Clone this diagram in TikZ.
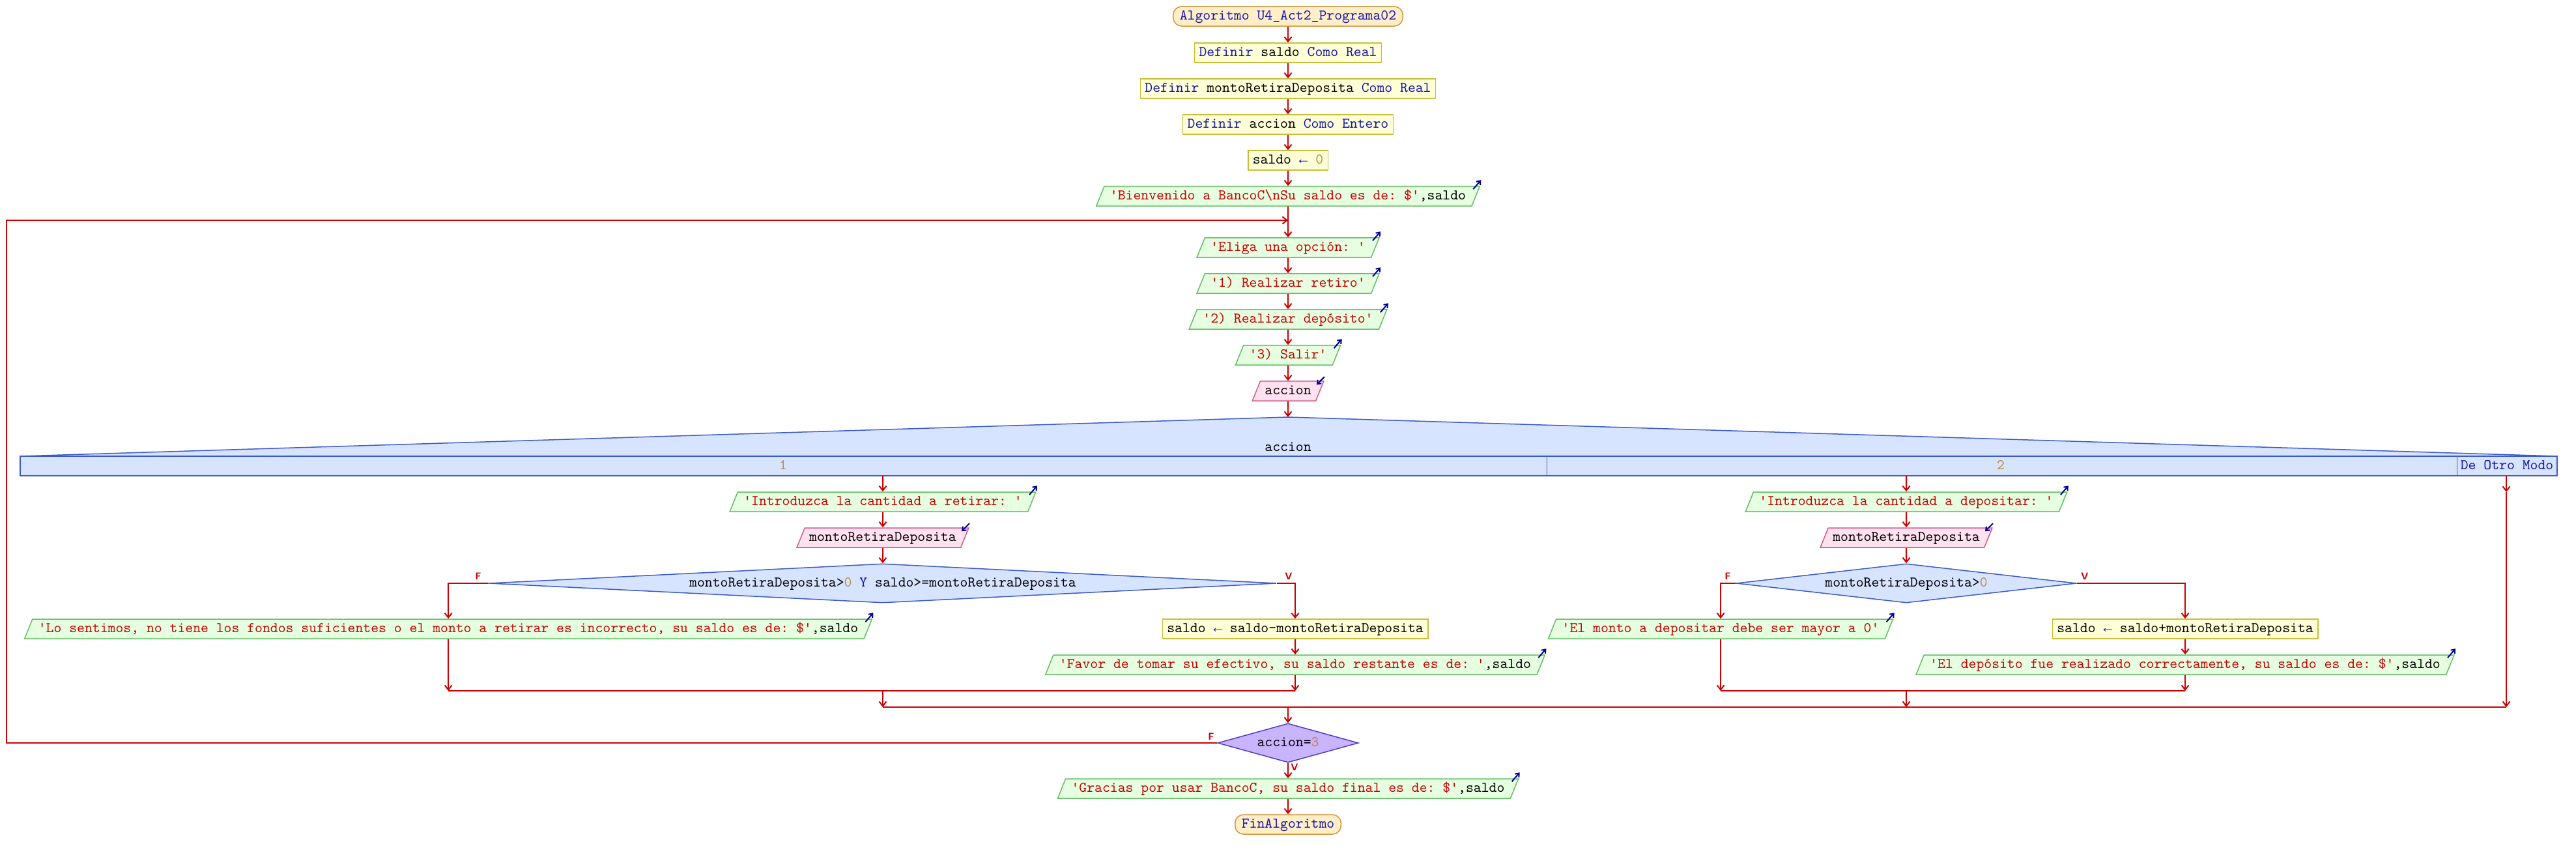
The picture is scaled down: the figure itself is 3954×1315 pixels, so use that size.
\documentclass[tikz,border=0pt]{standalone}
\usepackage{fontspec}
\setmonofont{lmmono10-regular.otf}
\newfontfamily\flecha{Liberation Mono}
\usepackage{tikz}
\usetikzlibrary{shapes.geometric, shapes.misc, arrows.meta, positioning, calc}

\definecolor{rojo}{RGB}{204,0,0}
\definecolor{kw}{RGB}{20,20,175}
\definecolor{cad}{RGB}{200,0,0}
\definecolor{num}{RGB}{190,140,60}
\definecolor{ico}{RGB}{0,0,150}
\definecolor{termF}{RGB}{255,238,200}
\definecolor{termB}{RGB}{210,150,60}
\definecolor{procF}{RGB}{255,255,215}
\definecolor{procB}{RGB}{200,190,60}
\definecolor{salF}{RGB}{230,255,225}
\definecolor{salB}{RGB}{100,190,100}
\definecolor{entF}{RGB}{255,225,240}
\definecolor{entB}{RGB}{210,90,140}
\definecolor{decF}{RGB}{215,228,255}
\definecolor{decB}{RGB}{60,90,200}
\definecolor{repF}{RGB}{200,180,255}
\definecolor{repB}{RGB}{80,60,200}

\newcommand{\pkw}[1]{\textcolor{kw}{#1}}
\newcommand{\pstr}[1]{\textcolor{cad}{#1}}
\newcommand{\pnum}[1]{\textcolor{num}{#1}}
\newcommand{\pasig}{\textcolor{kw}{{\flecha ←}}}

\tikzset{
  base/.style={font=\ttfamily\fontsize{6.43pt}{7pt}\selectfont, text height=0.14cm, text depth=0.04cm, inner ysep=0.06cm, line width=0.015cm},
  term/.style={base, rectangle, rounded corners=0.13cm, draw=termB, fill=termF, inner xsep=0.1cm},
  proc/.style={base, rectangle, draw=procB, fill=procF, inner xsep=0.07cm},
  salida/.style={base, trapezium, trapezium left angle=68, trapezium right angle=112, draw=salB, fill=salF, inner xsep=0.09cm},
  entrada/.style={base, trapezium, trapezium left angle=68, trapezium right angle=112, draw=entB, fill=entF, inner xsep=0.07cm},
  decision/.style={base, diamond, inner sep=0pt, draw=decB, fill=decF},
  segun/.style={draw=decB, fill=decF, line width=0.015cm},
  linea/.style={draw=rojo, line width=0.02cm},
  flow/.style={linea, -{Straight Barb[length=0.07cm,width=0.11cm]}},
  rotulo/.style={text=rojo, inner sep=0pt, font=\sffamily\bfseries\fontsize{4.3pt}{4.3pt}\selectfont},
  icono/.style={draw=ico, line width=0.02cm, -{Straight Barb[length=0.05cm,width=0.08cm]}}
}
\newcommand{\icosal}[1]{\draw[icono] ([shift={(-11,5)}]#1.top right corner) -- ([shift={(1,-9)}]#1.top right corner);}
\newcommand{\icoent}[1]{\draw[icono] ([shift={(0,-6)}]#1.top right corner) -- ([shift={(-12,6)}]#1.top right corner);}

\begin{document}
\begin{tikzpicture}[x=0.01cm, y=-0.01cm]
\useasboundingbox (0,0) rectangle (3954,1315);

% Inicio y definiciones
\node[term] (ini) at (1977,25) {\pkw{Algoritmo U4\_Act2\_Programa02}};
\node[proc] (def1) at (1977,81) {\pkw{Definir} saldo \pkw{Como Real}};
\node[proc] (def2) at (1977,136) {\pkw{Definir} montoRetiraDeposita \pkw{Como Real}};
\node[proc] (def3) at (1977,191) {\pkw{Definir} accion \pkw{Como Entero}};
\node[proc] (asig0) at (1977,246) {saldo \pasig{} \pnum{0}};
\node[salida] (bienv) at (1977,301) {\pstr{'Bienvenido a BancoC\textbackslash nSu saldo es de: \$'},saldo};

% Menu
\coordinate (izq) at (10,338);
\coordinate (bucle) at (1977,338);
\node[salida] (eliga) at (1977,380) {\pstr{'Eliga una opción: '}};
\node[salida] (op1) at (1977,435) {\pstr{'1) Realizar retiro'}};
\node[salida] (op2) at (1977,490) {\pstr{'2) Realizar depósito'}};
\node[salida] (op3) at (1977,545) {\pstr{'3) Salir'}};
\node[entrada] (leer) at (1977,600) {accion};

% Segun
\coordinate (segTop) at (1977,640);
\filldraw[segun] (31,700) -- (segTop) -- (3925,700) -- cycle;
\filldraw[segun] (31,700) rectangle (3925,730);
\draw[segun, line width=0.01cm] (2374,700) -- (2374,730) (3771,700) -- (3771,730);
\node[base] (segVar) at (1977,687) {accion};
\node[base] (caso1) at (1202,715) {\pnum{1}};
\node[base] (caso2) at (3071,715) {\pnum{2}};
\node[base] (casoOtro) at (3848,715) {\pkw{De Otro Modo}};
\coordinate (c1) at (1355,730);
\coordinate (c2) at (2926,730);
\coordinate (c3) at (3847,730);
\coordinate (c3v) at (3847,755);

% Caso 1: retiro
\node[salida] (intro1) at (1355,770) {\pstr{'Introduzca la cantidad a retirar: '}};
\node[entrada] (leer1) at (1355,825) {montoRetiraDeposita};
\node[decision, aspect=20, minimum width=12.08cm, minimum height=0.6cm] (dec1) at (1355,895) {montoRetiraDeposita>\pnum{0} \pkw{Y} saldo>=montoRetiraDeposita};
\node[salida] (sent) at (688,965) {\pstr{'Lo sentimos, no tiene los fondos suficientes o el monto a retirar es incorrecto, su saldo es de: \$'},saldo};
\node[proc] (resta) at (1988,965) {saldo \pasig{} saldo-montoRetiraDeposita};
\node[salida] (favor) at (1988,1020) {\pstr{'Favor de tomar su efectivo, su saldo restante es de: '},saldo};
\coordinate (j1) at (1355,1060);

% Caso 2: deposito
\node[salida] (intro2) at (2926,770) {\pstr{'Introduzca la cantidad a depositar: '}};
\node[entrada] (leer2) at (2926,825) {montoRetiraDeposita};
\node[decision, aspect=8, minimum width=5.22cm, minimum height=0.6cm] (dec2) at (2926,895) {montoRetiraDeposita>\pnum{0}};
\node[salida] (monto0) at (2641,965) {\pstr{'El monto a depositar debe ser mayor a 0'}};
\node[proc] (suma) at (3354,965) {saldo \pasig{} saldo+montoRetiraDeposita};
\node[salida] (depok) at (3354,1020) {\pstr{'El depósito fue realizado correctamente, su saldo es de: \$'},saldo};
\coordinate (j2) at (2926,1060);

% Repetir hasta y fin
\coordinate (jm) at (1977,1085);
\node[decision, fill=repF, draw=repB, aspect=3, minimum width=2.16cm, minimum height=0.6cm] (rep) at (1977,1140) {accion=\pnum{3}};
\node[salida] (gracias) at (1977,1210) {\pstr{'Gracias por usar BancoC, su saldo final es de: \$'},saldo};
\node[term] (fin) at (1977,1265) {\pkw{FinAlgoritmo}};

% Iconos de entrada/salida
\foreach \n in {bienv, eliga, op1, op2, op3, intro1, sent, favor, intro2, monto0, depok, gracias}
  {\icosal{\n}}
\foreach \n in {leer, leer1, leer2}
  {\icoent{\n}}

% Flechas
\foreach \a/\b in {ini/def1, def1/def2, def2/def3, def3/asig0, asig0/bienv, bienv/eliga, eliga/op1, op1/op2, op2/op3, op3/leer, rep/gracias, gracias/fin}
  \draw[flow] (\a) -- (\b);
\draw[flow] (leer) -- (segTop);
\draw[flow] (rep.west) -| (izq) -- (bucle);

\draw[flow] (c1) -- (intro1);
\draw[flow] (intro1) -- (leer1);
\draw[flow] (leer1) -- (dec1);
\draw[flow] (dec1.west) -| (sent.north);
\draw[flow] (dec1.east) -| (resta.north);
\draw[flow] (resta) -- (favor);
\draw[flow] (sent.south) -- (sent.south |- j1);
\draw[flow] (favor.south) -- (favor.south |- j1);
\draw[linea] (sent.south |- j1) -- (favor.south |- j1);
\draw[flow] (j1) -- (j1 |- jm);

\draw[flow] (c2) -- (intro2);
\draw[flow] (intro2) -- (leer2);
\draw[flow] (leer2) -- (dec2);
\draw[flow] (dec2.west) -| (monto0.north);
\draw[flow] (dec2.east) -| (suma.north);
\draw[flow] (suma) -- (depok);
\draw[flow] (monto0.south) -- (monto0.south |- j2);
\draw[flow] (depok.south) -- (depok.south |- j2);
\draw[linea] (monto0.south |- j2) -- (depok.south |- j2);
\draw[flow] (j2) -- (j2 |- jm);

\draw[flow] (c3) -- (c3v);
\draw[flow] (c3v) -- (c3 |- jm);
\draw[linea] (c1 |- jm) -- (c3 |- jm);
\draw[flow] (jm) -- (rep);

% Rotulos F / V
\node[rotulo] (f1) at (734,884) {F};
\node[rotulo] (v1) at (1978,884) {V};
\node[rotulo] (f2) at (2652,884) {F};
\node[rotulo] (v2) at (3200,884) {V};
\node[rotulo] (f3) at (1859,1130) {F};
\node[rotulo] (v3) at (1987,1177) {V};
\end{tikzpicture}
\end{document}
